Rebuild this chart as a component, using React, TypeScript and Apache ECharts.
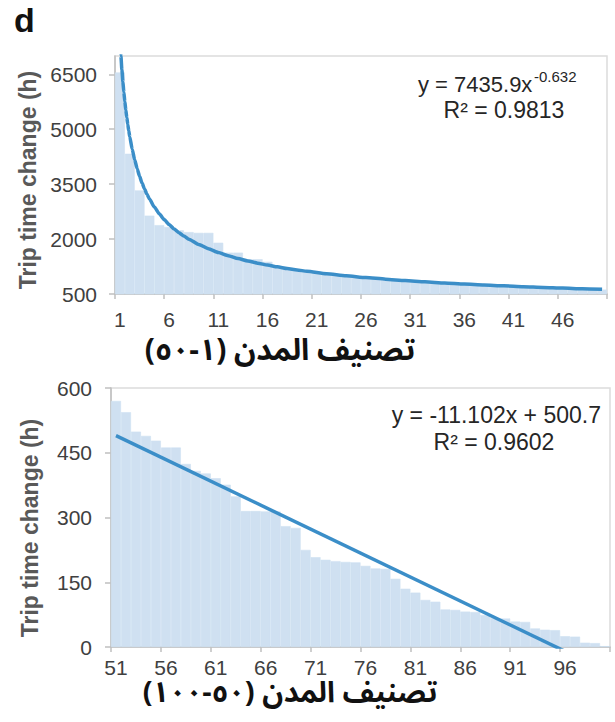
import React, { useEffect, useRef } from "react";
import * as echarts from "echarts";

// ---------- data ----------
const topCategories = Array.from({ length: 50 }, (_, i) => String(i + 1));
const topValues = [
  6550, 4330, 3330, 2640, 2380, 2330, 2240, 2190, 2170, 2170,
  1900, 1630, 1630, 1450, 1450, 1380, 1230, 1180, 1150, 1110,
  1080, 1050, 1020, 990, 970, 940, 920, 900, 880, 860,
  840, 830, 810, 800, 780, 770, 750, 740, 730, 720,
  710, 700, 690, 680, 670, 660, 650, 640, 630, 620,
];
// power trendline y = 7435.9x^-0.632
const topTrend = [
  [1, 7436], [1.1, 7001], [1.2, 6627], [1.3, 6300], [1.4, 6011], [1.5, 5755],
  [1.6, 5525], [1.7, 5317], [1.8, 5129], [1.9, 4956], [2, 4797], [2.25, 4454],
  [2.5, 4167], [2.75, 3924], [3, 3714], [3.25, 3530], [3.5, 3368], [3.75, 3225],
  [4, 3095], [4.5, 2874], [5, 2689], [5.5, 2532], [6, 2396], [6.5, 2278],
  [7, 2174], [7.5, 2081], [8, 1998], [9, 1855], [10, 1735], [11, 1634],
  [12, 1547], [13, 1470], [14, 1403], [15, 1343], [16, 1289], [17, 1241],
  [18, 1197], [19, 1156], [20, 1120], [22, 1054], [24, 998], [26, 949],
  [28, 905], [30, 866], [32, 832], [34, 801], [36, 772], [38, 746],
  [40, 723], [42, 700], [44, 680], [46, 661], [48, 644], [50, 628],
];
const topYTicks = [500, 2000, 3500, 5000, 6500];

const bottomCategories = Array.from({ length: 50 }, (_, i) => String(i + 51));
const bottomValues = [
  570, 544, 499, 489, 478, 462, 462, 424, 408, 402,
  391, 376, 349, 315, 315, 314, 314, 280, 276, 225,
  208, 202, 199, 197, 196, 188, 182, 181, 158, 135,
  126, 109, 105, 87, 86, 82, 81, 74, 67, 66,
  59, 58, 43, 40, 39, 25, 24, 10, 9, 2,
];
// linear trendline y = -11.102x + 500.7
const bottomTrend = [
  [1, 489.6],
  [50, -54.4],
];
const bottomYTicks = [0, 150, 300, 450, 600];

const topEquation = "y = 7435.9x";
const topExponent = "-0.632";
const topR2 = "R² = 0.9813";
const bottomEquation = "y = -11.102x + 500.7";
const bottomR2 = "R² = 0.9602";
const yName = "Trip time change (h)";
const topXName = "\u200Fتصنيف المدن (١-٥٠)\u200F";
const bottomXName = "\u200Fتصنيف المدن (٥٠-١٠٠)\u200F";

// ---------- styles ----------
const BAR = "#cfe0f1";
const LINE = "#3b8ec8";
const AXIS = "#bfbfbf";
const LABEL = "#404040";
const FONT = "Liberation Sans, Arial, sans-serif";
const AR_FONT = "'Noto Sans Arabic', 'Noto Naskh Arabic', 'DejaVu Sans', sans-serif";

function catAxis(grid: number, data: string[], margin: number) {
  return {
    gridIndex: grid,
    type: "category",
    data,
    boundaryGap: true,
    axisLine: { show: true, lineStyle: { color: AXIS, width: 1.5 } },
    axisTick: { show: true, interval: 4, length: 5, lineStyle: { color: AXIS, width: 1.5 } },
    axisLabel: { interval: 4, fontSize: 21, color: LABEL, margin, fontFamily: FONT },
    splitLine: { show: false },
  };
}
function hiddenX(grid: number) {
  return { gridIndex: grid, type: "value", min: 0.5, max: 50.5, show: false };
}
function valAxis(grid: number, min: number, max: number, ticks: number[], margin: number) {
  return {
    gridIndex: grid,
    type: "value",
    min,
    max,
    axisLine: { show: true, lineStyle: { color: AXIS, width: 1.5 } },
    axisTick: { show: true, length: 6, customValues: ticks, lineStyle: { color: AXIS, width: 1.5 } },
    axisLabel: {
      customValues: ticks,
      fontSize: 21,
      color: LABEL,
      margin,
      fontFamily: FONT,
      formatter: (v: number) => String(v),
    },
    splitLine: { show: false },
  };
}

export default function App() {
  const ref = useRef<HTMLDivElement>(null);
  useEffect(() => {
    if (!ref.current) return;
    const chart = echarts.init(ref.current, undefined, { renderer: "svg" });
    chart.setOption({
      animation: false,
      backgroundColor: "#ffffff",
      grid: [
        { left: 115, right: 8, top: 56, height: 238, show: true, borderColor: "#dcdcdc", borderWidth: 1.5, backgroundColor: "transparent" },
        { left: 111, right: 5, top: 388, height: 259, show: true, borderColor: "#dcdcdc", borderWidth: 1.5, backgroundColor: "transparent" },
      ],
      xAxis: [catAxis(0, topCategories, 15), hiddenX(0), catAxis(1, bottomCategories, 10), hiddenX(1)],
      yAxis: [valAxis(0, 500, 7000, topYTicks, 18), valAxis(1, 0, 600, bottomYTicks, 19)],
      series: [
        {
          type: "bar",
          xAxisIndex: 0,
          yAxisIndex: 0,
          data: topValues,
          barCategoryGap: "0%",
          itemStyle: { color: BAR, borderColor: BAR, borderWidth: 0.6 },
          clip: true,
        },
        {
          type: "line",
          xAxisIndex: 1,
          yAxisIndex: 0,
          data: topTrend,
          smooth: 0.2,
          smoothMonotone: "x",
          showSymbol: false,
          lineStyle: { color: LINE, width: 3.5 },
          clip: true,
        },
        {
          type: "bar",
          xAxisIndex: 2,
          yAxisIndex: 1,
          data: bottomValues,
          barCategoryGap: "0%",
          itemStyle: { color: BAR, borderColor: BAR, borderWidth: 0.6 },
          clip: true,
        },
        {
          type: "line",
          xAxisIndex: 3,
          yAxisIndex: 1,
          data: bottomTrend,
          showSymbol: false,
          lineStyle: { color: LINE, width: 3.5 },
          clip: true,
        },
      ],
      graphic: [
        { type: "text", left: 14, top: 3, style: { text: "d", fontSize: 34, fontWeight: "bold", fill: "#111", fontFamily: FONT } },
        { type: "text", x: 418, y: 84, style: { text: topEquation, fontSize: 22, fill: "#262626", fontFamily: FONT, textVerticalAlign: "middle" } },
        { type: "text", x: 534, y: 76, style: { text: topExponent, fontSize: 15, fill: "#262626", fontFamily: FONT, textVerticalAlign: "middle" } },
        { type: "text", x: 504, y: 110, style: { text: topR2, fontSize: 23, fill: "#262626", fontFamily: FONT, textAlign: "center", textVerticalAlign: "middle" } },
        { type: "text", x: 601, y: 415, style: { text: bottomEquation, fontSize: 23, fill: "#262626", fontFamily: FONT, textAlign: "right", textVerticalAlign: "middle" } },
        { type: "text", x: 494, y: 442, style: { text: bottomR2, fontSize: 23, fill: "#262626", fontFamily: FONT, textAlign: "center", textVerticalAlign: "middle" } },
        { type: "text", x: 28, y: 180, rotation: Math.PI / 2, style: { text: yName, fontSize: 23, fontWeight: "bold", fill: "#595959", fontFamily: FONT, textAlign: "center", textVerticalAlign: "middle" } },
        { type: "text", x: 30, y: 528, rotation: Math.PI / 2, style: { text: yName, fontSize: 23, fontWeight: "bold", fill: "#595959", fontFamily: FONT, textAlign: "center", textVerticalAlign: "middle" } },
        { type: "text", x: 280, y: 350, style: { text: topXName, fontSize: 30, fontWeight: "bold", fill: "#111", fontFamily: AR_FONT, textAlign: "center", textVerticalAlign: "middle" } },
        { type: "text", x: 290, y: 692, style: { text: bottomXName, fontSize: 29, fontWeight: "bold", fill: "#111", fontFamily: AR_FONT, textAlign: "center", textVerticalAlign: "middle" } },
      ],
    });
    return () => chart.dispose();
  }, []);
  return <div ref={ref} style={{ position: "fixed", left: 0, top: 0, width: 615, height: 722 }} />;
}
